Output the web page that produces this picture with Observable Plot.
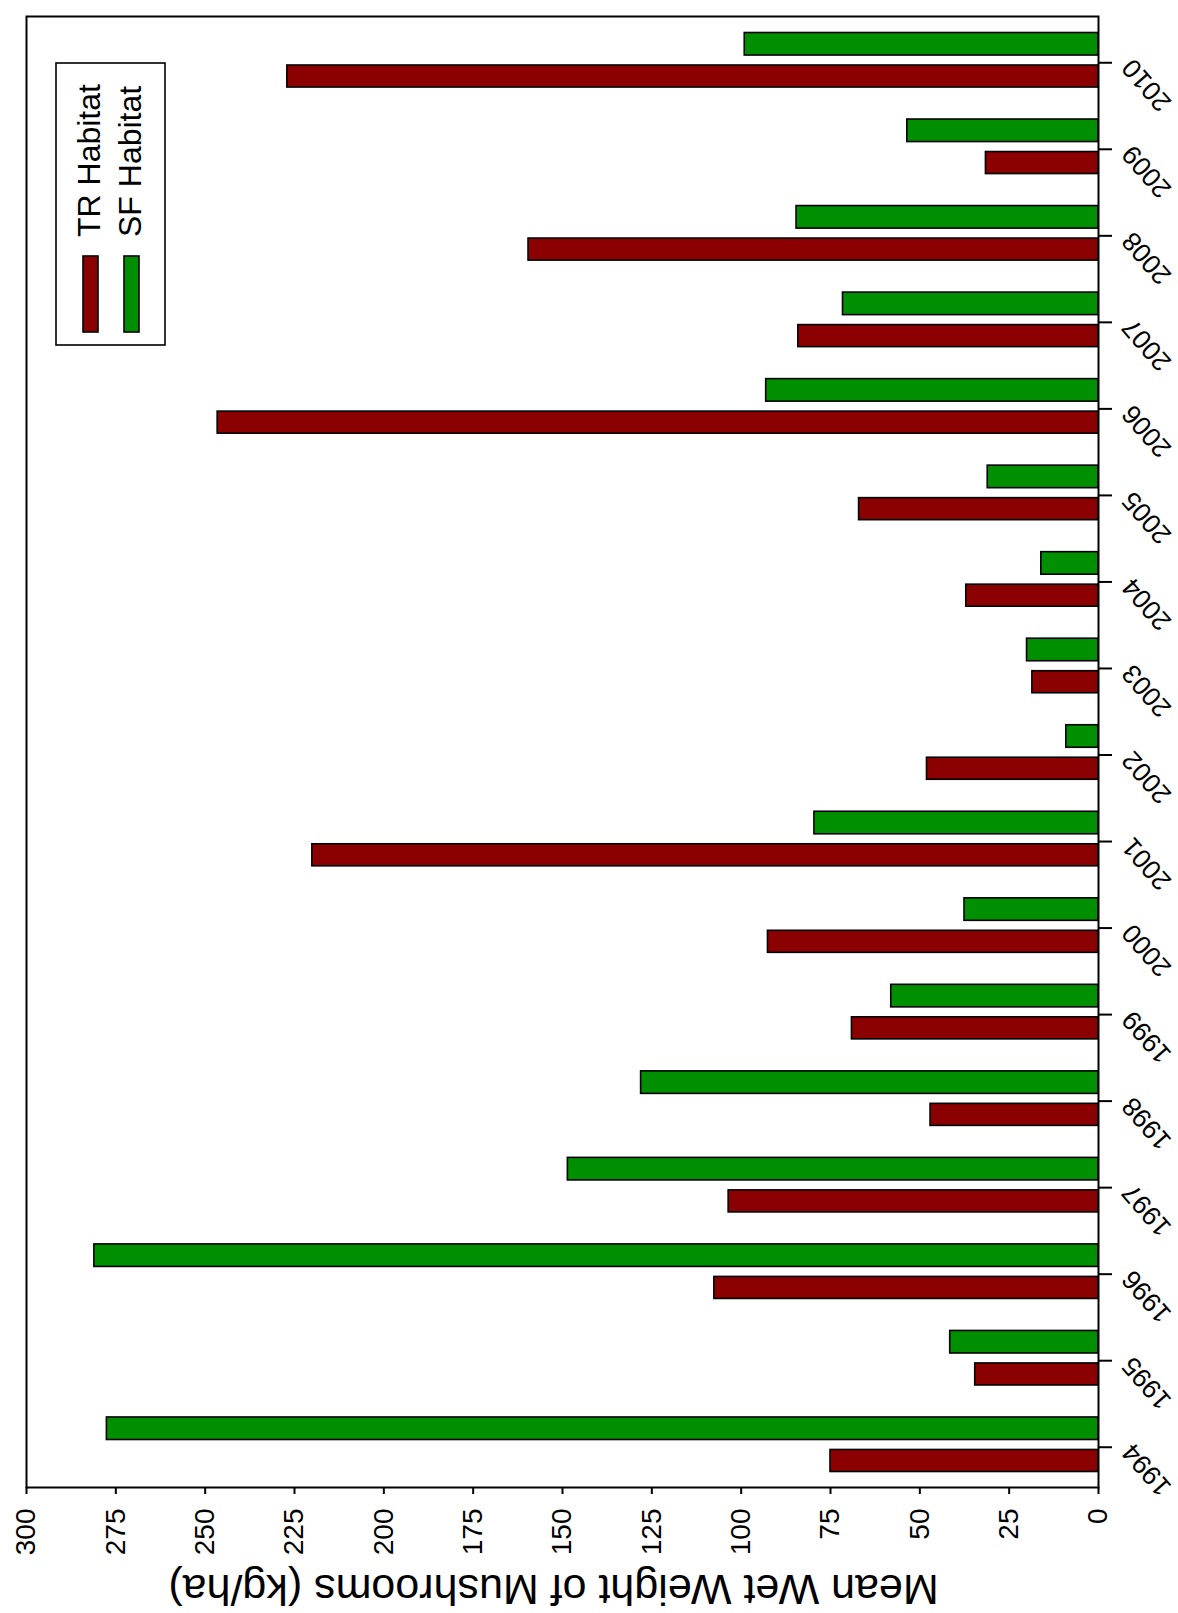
<!DOCTYPE html>
<html>
<head>
<meta charset="utf-8">
<script src="https://cdn.jsdelivr.net/npm/d3@7"></script>
<script src="https://cdn.jsdelivr.net/npm/@observablehq/plot@0.6"></script>
<style>
  html, body { margin: 0; padding: 0; background: #ffffff; }
  #chart svg { display: block; font-family: "Liberation Sans", Arial, Helvetica, sans-serif; }
  #chart svg text { font-family: "Liberation Sans", Arial, Helvetica, sans-serif; }
</style>
</head>
<body>
<div id="chart"></div>
<script>
// ---- data ----
const years = ["1994","1995","1996","1997","1998","1999","2000","2001","2002","2003","2004","2005","2006","2007","2008","2009","2010"];
const trValues = [75, 34.5, 107.5, 103.5, 47, 69, 92.5, 220, 48, 18.5, 37, 67, 246.5, 84, 159.5, 31.5, 227];
const sfValues = [277.5, 41.5, 281, 148.5, 128, 58, 37.5, 79.5, 9, 20, 16, 31, 93, 71.5, 84.5, 53.5, 99];
const seriesNames = ["TR Habitat", "SF Habitat"];
const seriesColors = ["#8b0000", "#008f00"];
const valueTicks = [0, 25, 50, 75, 100, 125, 150, 175, 200, 225, 250, 275, 300];
const axisTitle = "Mean Wet Weight of Mushrooms (kg/ha)";

const trData = years.map((year, i) => ({year, value: trValues[i]}));
const sfData = years.map((year, i) => ({year, value: sfValues[i]}));

const font = "Liberation Sans, Arial, Helvetica, sans-serif";

const chart = Plot.plot({
  width: 1178,
  height: 1613,
  marginLeft: 26,
  marginRight: 80,
  marginTop: 16,
  marginBottom: 126,
  style: {fontFamily: font, background: "#ffffff", color: "#000000"},
  x: {domain: [0, 300], reverse: true},
  y: {domain: years.slice().reverse(), padding: 0, round: false},
  marks: [
    Plot.barX(sfData, {x: "value", y: "year", fill: seriesColors[1], stroke: "#000", strokeWidth: 1.6, insetTop: 16.5, insetBottom: 47.5}),
    Plot.barX(trData, {x: "value", y: "year", fill: seriesColors[0], stroke: "#000", strokeWidth: 1.6, insetTop: 49, insetBottom: 15.5}),
    Plot.frame({stroke: "#000", strokeWidth: 2}),
    Plot.axisX({ticks: valueTicks, tickSize: 7, tickRotate: -90, tickPadding: 14, fontSize: 28, fontFamily: font, strokeWidth: 2, label: null}),
    Plot.axisY({anchor: "right", tickSize: 13, tickRotate: -131, textAnchor: "end", lineAnchor: "middle", tickPadding: 16, dy: 3, fontSize: 26.5, fontFamily: font, strokeWidth: 2, label: null}),
    Plot.text([axisTitle], {frameAnchor: "bottom", dy: 87, dx: -9, rotate: 180, fontSize: 43, fontFamily: font, fill: "#000"})
  ]
});

document.getElementById("chart").appendChild(chart);

// ---- legend (inside the plot area, top-left) ----
const svg = d3.select(chart);
const lg = svg.append("g").attr("class", "legend");
lg.append("rect").attr("x", 56).attr("y", 63).attr("width", 109).attr("height", 282)
  .attr("fill", "#fff").attr("stroke", "#000").attr("stroke-width", 1.6);
const swatchX = [83, 124];
const textX = [100, 141];
seriesNames.forEach((name, i) => {
  lg.append("rect").attr("x", swatchX[i]).attr("y", 256).attr("width", 15).attr("height", 76)
    .attr("fill", seriesColors[i]).attr("stroke", "#000").attr("stroke-width", 1.6);
  lg.append("text").attr("transform", `translate(${textX[i]},237) rotate(-90)`)
    .attr("font-family", font).attr("font-size", 32).attr("fill", "#000")
    .attr("text-anchor", "start").text(name);
});
</script>
</body>
</html>
